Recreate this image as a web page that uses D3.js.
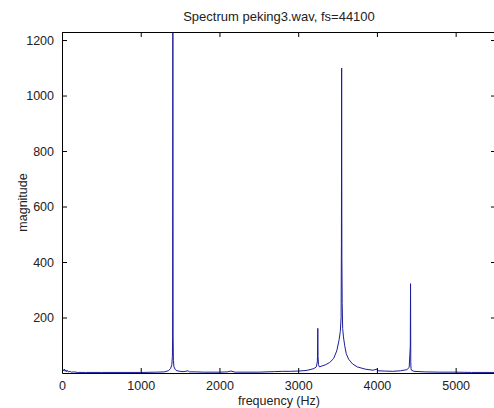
<!DOCTYPE html>
<html>
<head>
<meta charset="utf-8">
<script src="https://cdn.jsdelivr.net/npm/d3@7"></script>
<style>
  body { margin: 0; background: #fff; }
  svg text { font-family: "Liberation Sans", Arial, sans-serif; fill: #222; }
</style>
</head>
<body>
<svg id="chart" width="494" height="408"></svg>
<script>
// spectrum (Hz, magnitude)
const freqHz = [0, 10, 20, 30, 40, 50, 60, 70, 80, 100, 120, 150, 200, 300, 500, 800, 1000, 1200, 1300,
  1350, 1380, 1395, 1402, 1405, 1408, 1411, 1415, 1422, 1440, 1460, 1500, 1550, 1600, 1620, 1700, 1800,
  2000, 2100, 2145, 2200, 2500, 2700, 2800, 2900, 3000, 3100, 3150, 3200, 3230, 3243, 3246, 3249, 3252,
  3258, 3270, 3300, 3350, 3400, 3450, 3490, 3520, 3535, 3545, 3549, 3552, 3555, 3559, 3565, 3575, 3590,
  3610, 3640, 3690, 3750, 3850, 3950, 4000, 4010, 4100, 4200, 4300, 4380, 4410, 4424, 4427, 4430, 4433,
  4440, 4470, 4600, 4800, 5000, 5200, 5512];
const magnitude = [3, 12, 8, 14, 6, 11, 5, 9, 4, 6, 3, 4, 2, 2, 2, 2, 2, 3, 4,
  8, 16, 30, 60, 130, 1229, 136, 45, 22, 12, 8, 6, 5, 8, 4, 4, 3,
  3, 4, 7, 3, 3, 5, 6, 6, 7, 9, 12, 16, 22, 40, 64, 161, 60,
  30, 22, 25, 30, 38, 52, 80, 120, 150, 200, 466, 1099, 412, 250, 160, 130, 100,
  70, 50, 33, 22, 14, 10, 14, 8, 7, 6, 8, 12, 20, 97, 322, 40, 15,
  10, 6, 4, 3, 3, 2, 2];

const xTicks = [0, 1000, 2000, 3000, 4000, 5000];
const yTicks = [200, 400, 600, 800, 1000, 1200];
const titleText = "Spectrum peking3.wav, fs=44100";
const xLabel = "frequency (Hz)";
const yLabel = "magnitude";

const svg = d3.select("#chart");
const box = { left: 62, right: 496, top: 32, bottom: 373 };
const fontSize = "12.5px";

const x = d3.scaleLinear().domain([0, 5512.5]).range([box.left, box.right]);
const y = d3.scaleLinear().domain([0, 1229]).range([box.bottom, box.top]);

const points = freqHz.map((f, i) => [f, magnitude[i]]);

svg.append("defs").append("clipPath").attr("id", "plotclip")
  .append("rect")
  .attr("x", box.left).attr("y", box.top)
  .attr("width", box.right - box.left).attr("height", box.bottom - box.top);

// spectrum line
svg.append("path")
  .datum(points)
  .attr("clip-path", "url(#plotclip)")
  .attr("fill", "none")
  .attr("stroke", "#1c1c9c")
  .attr("stroke-width", 1)
  .attr("d", d3.line().x(d => x(d[0])).y(d => y(d[1])));

// axes, matlab style: inward ticks on all four sides
const tickLen = 5;
const fmt = d3.format("d");
const bottomAxis = d3.axisBottom(x).tickValues(xTicks).tickFormat(fmt).tickSizeInner(-tickLen).tickSizeOuter(0).tickPadding(8);
const topAxis = d3.axisTop(x).tickValues(xTicks).tickSizeInner(-tickLen).tickSizeOuter(0).tickFormat("");
const leftAxis = d3.axisLeft(y).tickValues(yTicks).tickFormat(fmt).tickSizeInner(-tickLen).tickSizeOuter(0).tickPadding(8);
const rightAxis = d3.axisRight(y).tickValues(yTicks).tickSizeInner(-tickLen).tickSizeOuter(0).tickFormat("");

const gb = svg.append("g").attr("transform", `translate(0,${box.bottom})`).call(bottomAxis);
const gt = svg.append("g").attr("transform", `translate(0,${box.top})`).call(topAxis);
const gl = svg.append("g").attr("transform", `translate(${box.left},0)`).call(leftAxis);
const gr = svg.append("g").attr("transform", `translate(${box.right},0)`).call(rightAxis);

[gb, gt, gl, gr].forEach(g => {
  g.select(".domain").attr("stroke", "#000");
  g.selectAll(".tick line").attr("stroke", "#000");
  g.selectAll("text").style("font-size", fontSize).attr("fill", "#222")
    .style("font-family", "'Liberation Sans', Arial, sans-serif");
});

// titles
svg.append("text")
  .attr("x", (box.left + box.right) / 2).attr("y", 21)
  .attr("text-anchor", "middle")
  .style("font-size", "13px")
  .text(titleText);

svg.append("text")
  .attr("x", (box.left + box.right) / 2).attr("y", 405)
  .attr("text-anchor", "middle")
  .style("font-size", fontSize)
  .text(xLabel);

svg.append("text")
  .attr("transform", `translate(27,${(box.top + box.bottom) / 2}) rotate(-90)`)
  .attr("text-anchor", "middle")
  .style("font-size", fontSize)
  .text(yLabel);
</script>
</body>
</html>
